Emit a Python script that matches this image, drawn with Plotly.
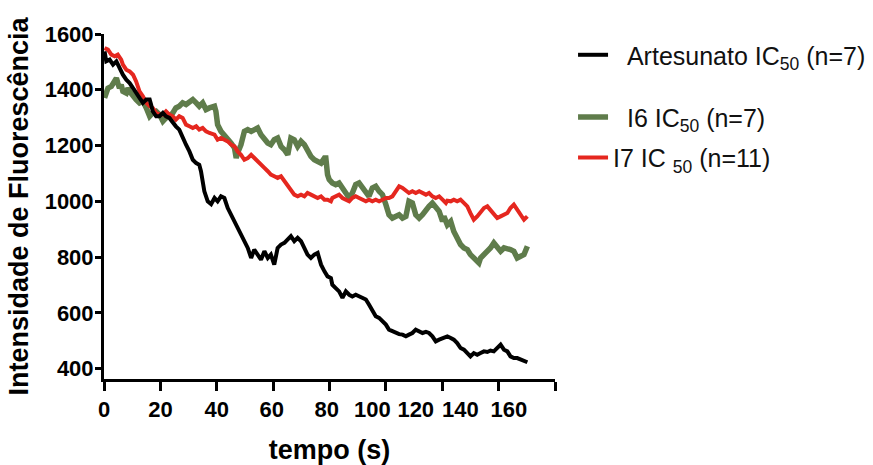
import plotly.graph_objects as go

# ---------------- data ----------------
time_art = [0.2, 0.8, 2.0, 3.2, 4.4, 5.5, 6.7, 7.9, 9.1, 10.3, 11.4, 12.6, 13.8, 15.0, 16.2, 16.7, 17.3,
            18.5, 19.7, 20.9, 22.0, 23.2, 24.4, 25.5, 26.7, 27.9, 29.1, 30.3, 31.5, 32.7, 33.8, 34.4, 35.0,
            35.6, 36.8, 38.0, 39.2, 40.3, 41.5, 42.7, 43.9, 45.1, 46.3, 47.4, 48.6, 49.8, 51.0, 52.2, 53.3,
            54.5, 55.7, 56.9, 58.1, 59.2, 60.4, 61.6, 62.8, 64.0, 65.2, 66.3, 67.5, 68.7, 69.9, 71.1, 72.2,
            73.4, 74.6, 75.8, 77.0, 78.2, 79.3, 80.5, 81.0, 82.2, 83.4, 84.6, 85.8, 87.0, 88.1, 89.3, 90.5,
            91.7, 92.9, 94.0, 95.2, 96.4, 97.6, 98.8, 100.0, 101.1, 102.3, 103.5, 104.7, 105.9, 107.1, 108.2,
            109.4, 110.6, 111.8, 113.0, 114.2, 115.3, 116.5, 117.7, 118.9, 120.6, 121.8, 123.0, 124.1, 125.3,
            126.5, 127.7, 128.9, 130.0, 131.2, 132.4, 133.6, 134.8, 136.0, 137.1, 138.3, 139.5, 140.7, 141.9,
            143.1, 144.2, 145.4, 146.6, 147.8, 149.0, 150.2]
artesunato = [1538, 1502, 1508, 1490, 1502, 1478, 1454, 1436, 1424, 1406, 1388, 1371, 1353, 1365, 1365, 1347, 1323,
              1305, 1305, 1317, 1305, 1299, 1281, 1269, 1257, 1227, 1203, 1179, 1149, 1137, 1131, 1108, 1072,
              1036, 1000, 990, 1012, 1000, 1018, 1012, 976, 952, 928, 904, 881, 857, 833, 797, 827,
              809, 791, 821, 797, 809, 773, 833, 845, 851, 863, 875, 857, 869, 857, 827, 809,
              797, 809, 815, 773, 749, 731, 725, 701, 689, 677, 654, 677, 665, 659, 665, 659,
              654, 648, 630, 606, 588, 582, 570, 558, 540, 534, 528, 524, 522, 516, 522,
              528, 540, 534, 528, 532, 528, 516, 498, 504, 510, 516, 510, 504, 492,
              474, 468, 456, 444, 456, 450, 456, 462, 460, 465, 462, 474, 486, 468,
              462, 444, 438, 438, 432, 426, 423]

time_i6 = [0.2, 0.8, 1.4, 2.6, 3.8, 4.4, 4.9, 5.5, 6.1, 6.7, 7.9, 8.5, 9.1, 10.3, 11.4, 12.6, 13.8, 15.0, 16.2,
           17.3, 18.5, 19.7, 20.9, 22.0, 23.2, 24.4, 25.5, 26.7, 27.9, 29.1, 30.3, 31.5, 32.7, 33.8, 35.0, 36.2,
           37.4, 38.6, 39.2, 39.7, 40.3, 41.5, 42.7, 43.9, 45.1, 46.3, 46.9, 47.4, 48.6, 49.8, 51.0, 52.2, 53.3,
           54.5, 55.7, 56.9, 58.1, 59.2, 60.4, 61.6, 62.8, 64.0, 65.2, 66.3, 67.5, 68.7, 69.9, 71.1, 72.2, 73.4,
           74.6, 75.8, 77.0, 78.2, 78.7, 79.3, 79.9, 81.0, 82.2, 83.4, 84.6, 85.8, 87.0, 88.1, 89.3, 90.5, 91.7,
           92.9, 94.0, 95.2, 96.4, 97.6, 98.8, 100.0, 101.1, 102.3, 103.5, 104.7, 105.9, 107.1, 108.2, 109.4,
           110.6, 111.8, 113.0, 114.2, 115.3, 116.5, 117.7, 118.9, 120.1, 120.6, 121.8, 123.0, 124.1, 125.3,
           126.5, 127.7, 128.9, 130.0, 131.2, 132.4, 133.0, 133.6, 134.8, 136.0, 137.1, 138.3, 139.5, 140.7,
           141.9, 143.1, 144.2, 145.4, 146.6, 147.8, 149.0, 150.2]
i6 = [1371, 1388, 1406, 1412, 1430, 1442, 1424, 1406, 1418, 1394, 1388, 1406, 1394, 1377, 1365, 1353, 1359, 1335, 1305,
      1317, 1323, 1311, 1287, 1299, 1305, 1317, 1335, 1341, 1353, 1347, 1359, 1365, 1353, 1341, 1353, 1329,
      1335, 1341, 1341, 1323, 1275, 1251, 1239, 1227, 1209, 1191, 1155, 1173, 1203, 1251, 1257, 1251, 1257,
      1263, 1239, 1221, 1209, 1203, 1221, 1227, 1197, 1185, 1167, 1227, 1221, 1197, 1215, 1203, 1179, 1161,
      1149, 1143, 1137, 1155, 1155, 1096, 1078, 1066, 1060, 1066, 1048, 1024, 1012, 1030, 1060, 1066, 1048,
      1036, 1018, 1048, 1054, 1036, 1024, 988, 952, 940, 946, 952, 940, 946, 1000, 994,
      952, 940, 952, 970, 982, 994, 976, 964, 928, 946, 916, 928, 892, 869,
      845, 833, 827, 809, 797, 785, 779, 797, 809, 821, 833, 851, 839, 821,
      833, 827, 827, 821, 797, 803, 809, 839]

time_i7 = [0.2, 1.4, 2.6, 3.8, 4.9, 6.1, 6.7, 7.9, 9.1, 10.3, 11.4, 12.6, 13.8, 15.0, 16.2, 17.3, 18.5, 19.7,
           20.9, 22.0, 23.2, 24.4, 25.5, 26.7, 27.9, 29.1, 30.3, 31.5, 32.7, 33.8, 35.0, 36.2, 37.4, 38.6, 39.2,
           40.3, 41.5, 42.7, 43.9, 45.1, 46.3, 47.4, 48.6, 49.8, 51.0, 52.2, 53.3, 54.5, 55.7, 56.9, 58.1, 59.2,
           60.4, 61.6, 62.8, 64.0, 65.2, 66.3, 67.5, 68.7, 69.9, 71.1, 72.2, 73.4, 74.6, 75.8, 77.0, 78.2, 79.3,
           80.5, 81.0, 82.2, 83.4, 84.6, 85.8, 87.0, 88.1, 89.3, 90.5, 91.7, 92.9, 94.0, 95.2, 96.4, 97.6, 98.8,
           100.0, 101.1, 102.3, 103.5, 104.7, 105.9, 107.1, 108.2, 109.4, 110.6, 111.8, 113.0, 114.2, 115.3,
           116.5, 117.7, 118.9, 120.1, 121.3, 121.8, 123.0, 124.1, 125.3, 126.5, 127.7, 128.9, 130.0, 131.2,
           132.4, 133.6, 134.8, 136.0, 137.1, 138.3, 139.5, 140.7, 141.9, 143.1, 144.2, 145.4, 146.6, 147.8,
           149.0, 150.2]
i7 = [1550, 1544, 1526, 1520, 1526, 1508, 1490, 1472, 1466, 1454, 1430, 1394, 1377, 1353, 1341, 1335, 1317, 1311,
      1311, 1323, 1311, 1305, 1293, 1305, 1299, 1275, 1269, 1263, 1269, 1257, 1263, 1251, 1245, 1240, 1239,
      1221, 1227, 1221, 1215, 1203, 1197, 1179, 1167, 1149, 1155, 1167, 1155, 1143, 1131, 1120, 1108, 1096,
      1090, 1084, 1090, 1072, 1054, 1036, 1024, 1018, 1024, 1018, 1030, 1024, 1018, 1012, 1018, 1006, 1006,
      1000, 1012, 1018, 1024, 1012, 1006, 1000, 1012, 1018, 1012, 1006, 1000, 1006, 1000, 1006, 1000, 1006,
      1012, 1012, 1018, 1036, 1054, 1048, 1036, 1030, 1036, 1030, 1036, 1030, 1024, 1030,
      1018, 1012, 1018, 1006, 994, 1002, 1000, 1006, 1000, 1006, 994, 982, 958, 934,
      946, 964, 976, 982, 970, 952, 940, 946, 952, 958, 976, 988, 970, 952,
      934, 946]

x_tick_vals = [0, 20, 40, 60, 80, 100, 120, 140, 160]
x_tick_labels = ["0", "20", "40", "60", "80", "100", "120", "140", "160"]
y_tick_vals = [400, 600, 800, 1000, 1200, 1400, 1600]
y_tick_labels = ["400", "600", "800", "1000", "1200", "1400", "1600"]

# where the reference prints the x tick labels (its labels drift left of the tick marks)
X_LABEL_POS = [0, 20, 40, 59.5, 79, 95.2, 110.6, 126.4, 143.6]

FONT = "Arial, 'Liberation Sans', Helvetica, sans-serif"
NB = "\u00a0"

fig = go.Figure()
fig.add_trace(go.Scatter(x=time_i6, y=i6, mode="lines", name=NB * 2 + "I6 IC<sub>50</sub> (n=7)",
                         line=dict(color="#5f7c4b", width=5.5), legend="legend2"))
fig.add_trace(go.Scatter(x=time_i7, y=i7, mode="lines", name="I7 IC <sub>50</sub> (n=11)",
                         line=dict(color="#e5271f", width=4), legend="legend3"))
fig.add_trace(go.Scatter(x=time_art, y=artesunato, mode="lines",
                         name=NB * 2 + "Artesunato IC<sub>50</sub> (n=7)",
                         line=dict(color="#000000", width=4), legend="legend"))

leg_common = dict(xanchor="left", yanchor="middle", bgcolor="rgba(0,0,0,0)", borderwidth=0,
                  font=dict(family=FONT, size=25, color="#111111"), itemwidth=30)

fig.update_layout(
    width=873, height=465,
    margin=dict(l=104, r=318, t=34, b=86, autoexpand=False),
    paper_bgcolor="white", plot_bgcolor="white",
    font=dict(family=FONT, color="black"),
    showlegend=True,
    legend=dict(x=1.04, y=0.939, **leg_common),
    legend2=dict(x=1.04, y=0.759, **leg_common),
    legend3=dict(x=1.04, y=0.641, **leg_common),
    xaxis=dict(
        range=[0, 160], tickmode="array", tickvals=X_LABEL_POS, ticktext=x_tick_labels,
        ticks="outside", ticklen=9, tickwidth=3, tickcolor="rgba(0,0,0,0)",
        minor=dict(tickmode="array", tickvals=x_tick_vals, ticks="outside", ticklen=9,
                   tickwidth=3, tickcolor="black", showgrid=False),
        showline=True, linewidth=3, linecolor="black", showgrid=False, zeroline=False,
        automargin=False,
        tickfont=dict(family=FONT, size=22, color="black", weight="bold"),
        title=dict(text="tempo (s)", font=dict(family=FONT, size=27, color="black", weight="bold"),
                   standoff=20),
    ),
    yaxis=dict(
        range=[363, 1600], tickmode="array", tickvals=y_tick_vals, ticktext=y_tick_labels,
        ticks="outside", ticklen=6, tickwidth=3, tickcolor="black", ticklabelstandoff=-3,
        showline=True, linewidth=3, linecolor="black", showgrid=False, zeroline=False,
        automargin=False,
        tickfont=dict(family=FONT, size=22, color="black", weight="bold"),
        title=dict(text="Intensidade de Fluorescência",
                   font=dict(family=FONT, size=27, color="black", weight="bold"), standoff=9),
    ),
)

fig.write_html("out.html", config={"displayModeBar": False},
               post_script="document.body.style.margin='0px';")
